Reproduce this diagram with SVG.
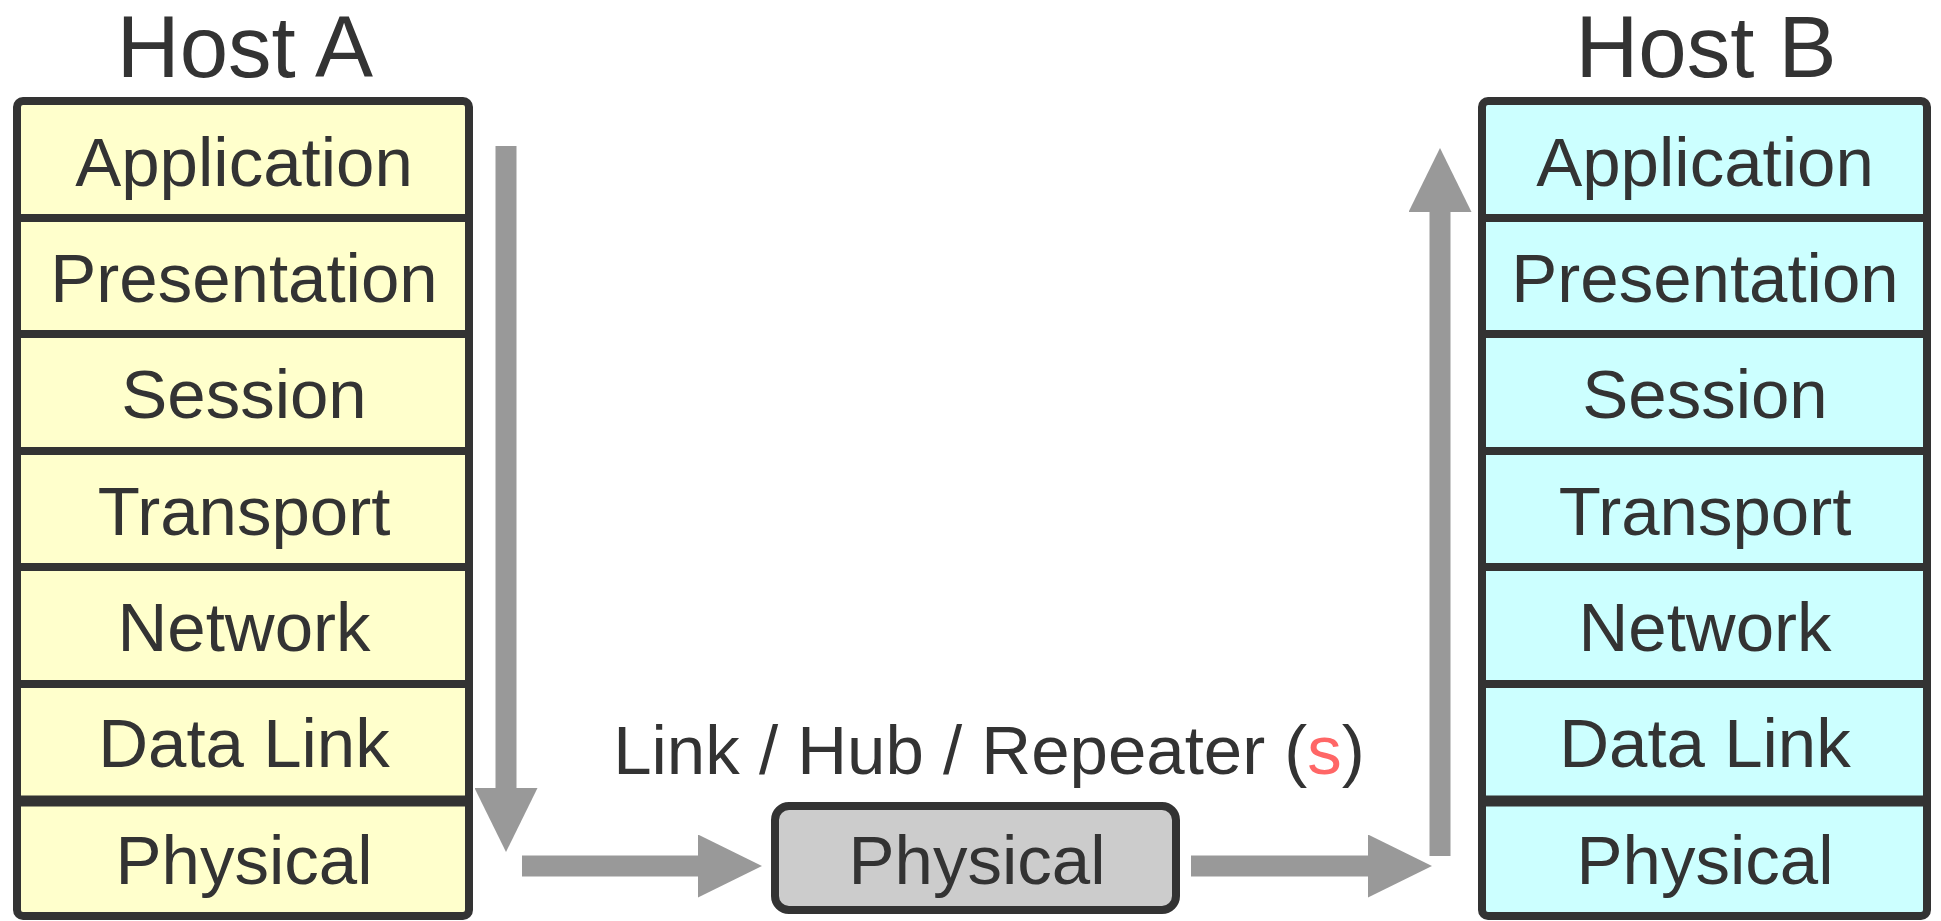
<svg xmlns="http://www.w3.org/2000/svg" width="1941" height="921" viewBox="0 0 1941 921">
  <style>
    .lbl { font-family: "Liberation Sans", Arial, sans-serif; font-size: 69px; fill: #333333; text-anchor: middle; }
    .title { font-family: "Liberation Sans", Arial, sans-serif; font-size: 87px; fill: #333333; text-anchor: middle; }
    .frame { stroke: #333333; stroke-width: 8; }
    .div { stroke: #333333; stroke-width: 8; }
    .conn { stroke: #999999; stroke-width: 21; fill: none; }
  </style>
  <defs>
    <marker id="ah" markerUnits="userSpaceOnUse" markerWidth="64" markerHeight="63" refX="0" refY="31.5" orient="auto">
      <path d="M0,0 L64,31.5 L0,63 z" fill="#999999"/>
    </marker>
  </defs>
  <rect width="1941" height="921" fill="#ffffff"/>

  <g id="hostA">
    <text class="title" x="245" y="77">Host A</text>
    <rect class="frame" x="17" y="101" width="452" height="815" rx="6" fill="#ffffcc"/>
    <line class="div" x1="17" y1="218" x2="469" y2="218"/>
    <line class="div" x1="17" y1="334" x2="469" y2="334"/>
    <line class="div" x1="17" y1="451" x2="469" y2="451"/>
    <line class="div" x1="17" y1="567" x2="469" y2="567"/>
    <line class="div" x1="17" y1="684" x2="469" y2="684"/>
    <line class="div" x1="17" y1="801" x2="469" y2="801" style="stroke-width:11"/>
    <text class="lbl" x="244" y="186">Application</text>
    <text class="lbl" x="244" y="302">Presentation</text>
    <text class="lbl" x="244" y="418">Session</text>
    <text class="lbl" x="244" y="535">Transport</text>
    <text class="lbl" x="244" y="651">Network</text>
    <text class="lbl" x="244" y="767">Data Link</text>
    <text class="lbl" x="244" y="884">Physical</text>
  </g>

  <g id="hostB">
    <text class="title" x="1706" y="77">Host B</text>
    <rect class="frame" x="1482" y="101" width="445" height="815" rx="6" fill="#ccffff"/>
    <line class="div" x1="1482" y1="218" x2="1927" y2="218"/>
    <line class="div" x1="1482" y1="334" x2="1927" y2="334"/>
    <line class="div" x1="1482" y1="451" x2="1927" y2="451"/>
    <line class="div" x1="1482" y1="567" x2="1927" y2="567"/>
    <line class="div" x1="1482" y1="684" x2="1927" y2="684"/>
    <line class="div" x1="1482" y1="801" x2="1927" y2="801" style="stroke-width:11"/>
    <text class="lbl" x="1705" y="186">Application</text>
    <text class="lbl" x="1705" y="302">Presentation</text>
    <text class="lbl" x="1705" y="418">Session</text>
    <text class="lbl" x="1705" y="535">Transport</text>
    <text class="lbl" x="1705" y="651">Network</text>
    <text class="lbl" x="1705" y="767">Data Link</text>
    <text class="lbl" x="1705" y="884">Physical</text>
  </g>

  <g id="hub">
    <text class="lbl" x="989" y="774">Link / Hub / Repeater (<tspan fill="#ff6666">s</tspan>)</text>
    <rect class="frame" x="775" y="806" width="401" height="104" rx="14" fill="#cccccc"/>
    <text class="lbl" x="977" y="884">Physical</text>
  </g>

  <g id="connectors">
    <line class="conn" x1="506" y1="146" x2="506" y2="788" marker-end="url(#ah)"/>
    <line class="conn" x1="522" y1="866" x2="698" y2="866" marker-end="url(#ah)"/>
    <line class="conn" x1="1191" y1="866" x2="1368" y2="866" marker-end="url(#ah)"/>
    <line class="conn" x1="1440" y1="856" x2="1440" y2="212" marker-end="url(#ah)"/>
  </g>
</svg>
